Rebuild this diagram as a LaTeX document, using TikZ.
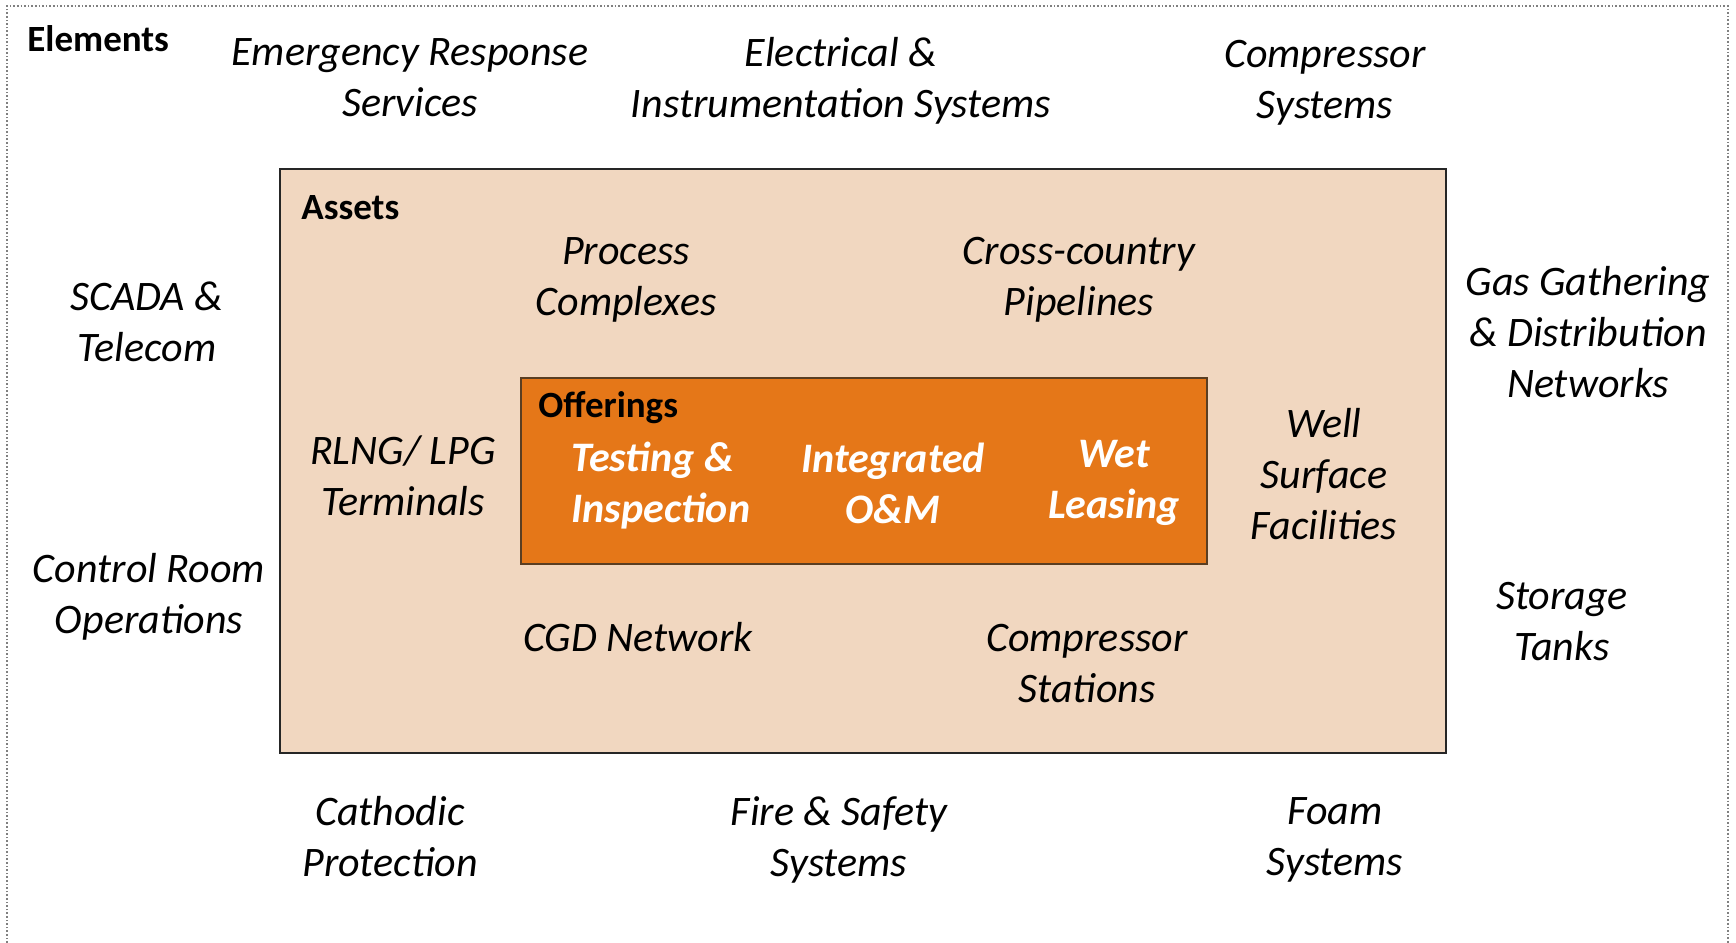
\documentclass[tikz,border=0pt]{standalone}
\usepackage{fontspec}
\setmainfont{Carlito}
\definecolor{assetfill}{HTML}{F1D7C0}
\definecolor{offerfill}{HTML}{E57718}
\definecolor{offerdraw}{HTML}{5A3E22}
\definecolor{framegray}{HTML}{808080}
\begin{document}
\begin{tikzpicture}[x=0.5pt,y=-0.5pt,
  lbl/.style={font=\fontsize{21}{25.5}\selectfont\itshape, align=center, inner sep=0pt},
  off/.style={font=\fontsize{21}{25.5}\selectfont\bfseries\itshape, text=white, align=center, inner sep=0pt},
  ttl/.style={font=\fontsize{18.5}{22}\selectfont\bfseries, anchor=west, inner sep=0pt}]
\useasboundingbox (0,0) rectangle (1736,943);
\fill[white] (0,0) rectangle (1736,943);
\draw[framegray, densely dotted, line width=0.8pt] (7,950) -- (7,6) -- (1728,6) -- (1728,950);
% assets box
\node[draw=black!85, fill=assetfill, line width=0.7pt, minimum width=1166*0.5pt, minimum height=584*0.5pt, inner sep=0pt] (assets) at (863,461) {};
% offerings box
\node[draw=offerdraw, fill=offerfill, line width=0.7pt, minimum width=686*0.5pt, minimum height=186*0.5pt, inner sep=0pt] (offer) at (864,471) {};
% titles
\node[ttl] (elem) at (27,39) {Elements};
\node[ttl] (assett) at (301,208) {Assets};
\node[ttl] (offt) at (538,408) {Offerings};
% outer elements
\node[lbl] (ers) at (410,78) {Emergency Response\\Services};
\node[lbl] (eis) at (841,81) {Electrical \&\\Instrumentation Systems};
\node[lbl] (cs) at (1325,83) {Compressor\\Systems};
\node[lbl] (scada) at (147,322) {SCADA \&\\Telecom};
\node[lbl] (ggd) at (1588,332) {Gas Gathering\\\& Distribution\\Networks};
\node[lbl] (cro) at (149,597) {Control Room\\Operations};
\node[lbl] (st) at (1562,622) {Storage\\Tanks};
\node[lbl] (cp) at (390,837) {Cathodic\\Protection};
\node[lbl] (fss) at (839,840) {Fire \& Safety\\Systems};
\node[lbl] (fs) at (1335,840) {Foam\\Systems};
% assets
\node[lbl] (pc) at (626,280) {Process\\Complexes};
\node[lbl] (ccp) at (1079,280) {Cross-country\\Pipelines};
\node[lbl] (rlng) at (403,476) {RLNG/ LPG\\Terminals};
\node[lbl] (wsf) at (1324,474) {Well\\Surface\\Facilities};
\node[lbl] (cgd) at (638,637) {CGD Network};
\node[lbl] (cst) at (1087,664) {Compressor\\Stations};
% offerings
\node[off, align=left, anchor=west] (ti) at (571,486) {Testing \&\\Inspection};
\node[off] (iom) at (893,483) {Integrated\\O\&M};
\node[off] (wl) at (1114,483) {Wet\\Leasing};
\end{tikzpicture}
\end{document}
